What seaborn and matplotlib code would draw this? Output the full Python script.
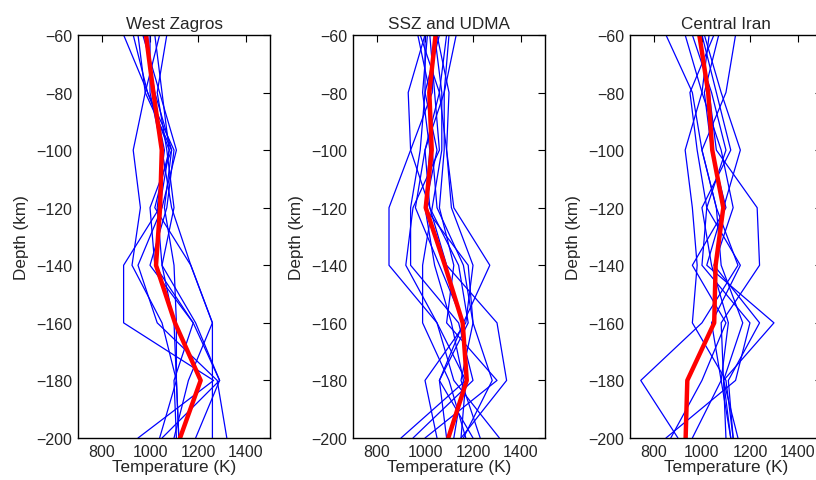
import numpy as np
import pandas as pd
import matplotlib
matplotlib.use("Agg")
import matplotlib.pyplot as plt
import seaborn as sns

# depth nodes (km)
depth = [-60, -80, -100, -120, -140, -160, -180, -200]
panel_titles = ["West Zagros", "SSZ and UDMA", "Central Iran"]

# individual temperature profiles (K), one list per model
west_zagros = [
    [990, 1010, 1060, 1030, 1050, 1100, 1110, 1120],
    [890, 990, 1100, 1070, 1000, 1180, 1290, 1050],
    [930, 990, 1080, 1040, 890, 890, 1265, 950],
    [950, 980, 930, 960, 925, 1050, 1110, 1040],
    [970, 1040, 1110, 1050, 950, 1030, 1280, 1320],
    [980, 1020, 1090, 1000, 1020, 1180, 1100, 1110],
    [1000, 1000, 1050, 1090, 1170, 1260, 1260, 1260],
    [1040, 980, 1090, 1060, 1100, 1110, 1110, 1120],
    [1070, 1030, 1070, 1100, 1050, 1190, 1290, 1190],
    [1020, 1050, 1080, 1020, 1170, 1260, 1160, 1100],
]
ssz_udma = [
    [1000, 930, 940, 850, 850, 1050, 1120, 1310],
    [1020, 1040, 1060, 950, 920, 1050, 1170, 900],
    [1060, 1000, 980, 940, 940, 1140, 1200, 950],
    [980, 1060, 1090, 1120, 1270, 1160, 1060, 1090],
    [1130, 1080, 1000, 1020, 1090, 1300, 1340, 1150],
    [1040, 1070, 1070, 1030, 990, 990, 1100, 1170],
    [1000, 1000, 1050, 1000, 1180, 1200, 1280, 1160],
    [1090, 1060, 1000, 960, 1060, 1160, 1170, 1150],
    [970, 1020, 1030, 1050, 1160, 1200, 1150, 1230],
    [1050, 1100, 1090, 1110, 1200, 1170, 1000, 1050],
    [1010, 990, 1020, 1000, 1040, 1110, 1160, 1120],
    [1100, 1080, 1080, 1060, 1120, 1090, 1300, 1000],
    [1040, 1030, 940, 1020, 1140, 1180, 1060, 1200],
]
central_iran = [
    [850, 960, 1000, 1060, 1150, 1000, 745, 900],
    [930, 1000, 930, 960, 980, 960, 1100, 1130],
    [960, 1040, 1100, 1020, 1000, 1200, 1140, 850],
    [990, 1030, 1060, 1230, 1240, 1080, 1090, 1120],
    [1010, 1080, 1160, 1090, 1020, 1300, 1090, 1150],
    [1030, 1000, 1080, 1130, 1050, 1240, 1110, 1130],
    [1050, 950, 980, 1020, 1160, 1040, 1080, 960],
    [1070, 1010, 1040, 1100, 960, 1100, 1000, 870],
    [1140, 1100, 1000, 1060, 1080, 1170, 1090, 1100],
    [1000, 1060, 1120, 1000, 1040, 1110, 1080, 1120],
]

# average profiles (red)
mean_west_zagros = [983, 1014, 1049, 1042, 1025, 1104, 1211, 1125]
mean_ssz_udma = [1044, 1018, 1028, 1003, 1083, 1157, 1174, 1097]
mean_central_iran = [989, 1026, 1043, 1089, 1057, 1051, 939, 932]


def to_frame(profiles):
    rows = []
    for i, prof in enumerate(profiles):
        for d, t in zip(depth, prof):
            rows.append({"profile": i, "depth": d, "temp": t})
    return pd.DataFrame(rows)


sns.set_style("white")
plt.rcParams["font.family"] = ["Liberation Sans", "DejaVu Sans"]

fig = plt.figure(figsize=(8.16, 4.81), dpi=100)
lefts = [0.0956, 0.4326, 0.772]
panels = [
    (west_zagros, mean_west_zagros),
    (ssz_udma, mean_ssz_udma),
    (central_iran, mean_central_iran),
]

for left, title, (profiles, mean) in zip(lefts, panel_titles, panels):
    ax = fig.add_axes([left, 0.0873, 0.2353, 0.838])
    df = to_frame(profiles)
    sns.lineplot(data=df, x="temp", y="depth", units="profile", estimator=None,
                 sort=False, color="#0000ff", lw=0.9, ax=ax, legend=False)
    ax.plot(mean, depth, color="#ff0000", lw=3.2)
    ax.set_xlim(700, 1500)
    ax.set_ylim(-200, -60)
    ax.set_xticks([800, 1000, 1200, 1400])
    ax.set_yticks(np.arange(-200, -59, 20))
    ax.tick_params(direction="in", top=True, right=True, length=5,
                   labelsize=11.5, color="black", pad=4)
    for sp in ax.spines.values():
        sp.set_color("black")
        sp.set_linewidth(1.0)
    ax.set_title(title, fontsize=12.3, pad=5)
    ax.set_xlabel("Temperature (K)", fontsize=12.3, labelpad=0)
    ax.set_ylabel("Depth (km)", fontsize=12.3, labelpad=5)

fig.savefig("out.png", dpi=100)
